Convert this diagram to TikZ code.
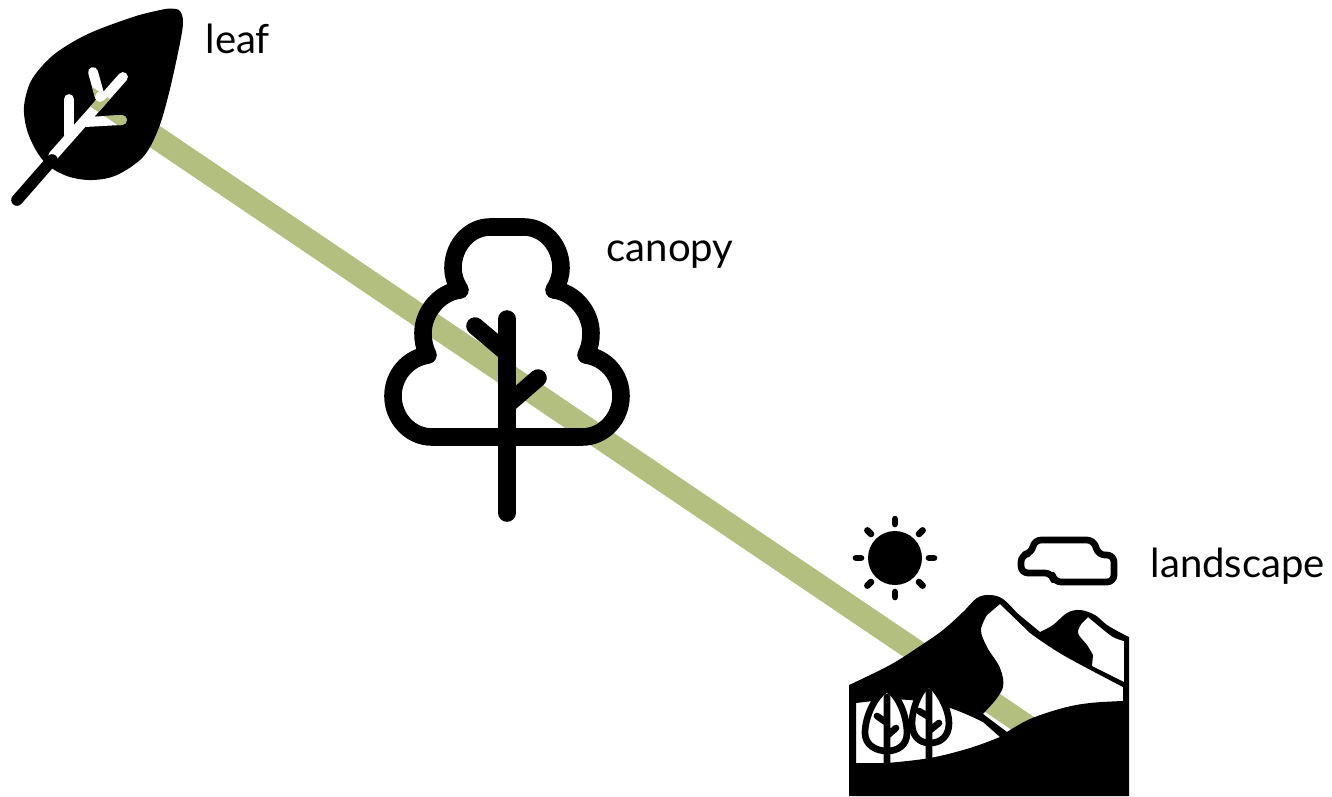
\documentclass[tikz,border=0pt]{standalone}
\usepackage{fontspec}
\setmainfont{Lato}
\usetikzlibrary{calc}
\definecolor{bandgreen}{HTML}{B3BF7F}
\begin{document}
\begin{tikzpicture}[x=0.01cm, y=-0.01cm,
	band/.style={line width=6.6pt, bandgreen},
	label/.style={anchor=base west, inner sep=0pt, font=\fontsize{11.4}{13}\selectfont},
	treeline/.style={line width=5pt, line cap=round, line join=round},
	smalltree/.style={line width=1.9pt, line cap=round, line join=round},
	vein/.style={line width=2.8pt, line cap=round},
	ray/.style={line width=1.9pt, line cap=round}]

	\useasboundingbox (0, 0) rectangle (1332, 796);

	\coordinate (leafend) at (80, 86);
	\coordinate (landscapeend) at (1040, 735);
	\coordinate (suncentre) at (895, 558);

	\node (leaftext) [label] at (205, 53) {leaf};
	\node (canopytext) [label] at (606, 261) {canopy};
	\node (landscapetext) [label] at (1150, 577) {landscape};

	\draw[band] (leafend) -- (landscapeend);

	% leaf
	\fill plot[smooth cycle, tension=0.55] coordinates {(171, 8.5) (180, 11) (183, 22) (180, 43) (169, 93) (158, 130) (143, 157) (117, 175) (93, 180) (70, 177) (50, 167) (37, 152) (27, 130) (24, 107) (30, 83) (43, 65) (60, 50) (90, 33) (133, 17) (158, 10.5)};
	\draw[vein, white] (53, 156) -- (123, 77) (69, 99) -- (69, 135) (93, 72) -- (100, 97) (122, 120) -- (86, 122);
	\begin{scope}
		\clip (70, 72) -- (150, 126) -- (140, 140) -- (70, 93) -- cycle;
		\draw[vein, bandgreen] (93, 72) -- (100, 97) (122, 120) -- (86, 122) (53, 156) -- (123, 77);
		\draw[vein, white] (86, 122) -- (105, 122) (100, 97) -- (123, 77);
	\end{scope}
	\draw[line width=3.3pt, line cap=round] (17, 200) -- (52, 160);

	% canopy
	\draw[treeline] (432, 437) .. controls (410, 437) and (393, 418) .. (393, 396) .. controls (393, 375) and (408, 358) .. (428, 355) .. controls (424, 347) and (423, 340) .. (423, 333) .. controls (423, 312) and (440, 292) .. (460, 290) .. controls (455, 282) and (453, 275) .. (453, 268) .. controls (453, 245) and (470, 227) .. (490, 227) -- (524, 227) .. controls (544, 227) and (561, 245) .. (561, 268) .. controls (561, 275) and (559, 282) .. (554, 290) .. controls (574, 292) and (591, 312) .. (591, 333) .. controls (591, 340) and (590, 347) .. (586, 355) .. controls (606, 358) and (621, 375) .. (621, 396) .. controls (621, 418) and (604, 437) .. (582, 437) -- cycle;
	\draw[treeline] (507, 319) -- (507, 513);
	\draw[treeline] (475, 326) -- (507, 353);
	\draw[treeline] (538, 378) -- (507, 405);

	% landscape
	\fill[even odd rule] (849, 796) -- (1129, 796) -- (1129, 637) -- plot[smooth, tension=0.6] coordinates {(1123, 634) (1107, 625) (1095, 615) (1080, 610) (1067, 613) (1053, 625) (1040, 632)} -- plot[smooth, tension=0.6] coordinates {(1017, 613) (1003, 599) (990, 595) (977, 598) (963, 612) (943, 630) (920, 646) (890, 665) (849, 685)} -- cycle
		(1000, 604) -- plot[smooth, tension=0.6] coordinates {(1030, 633) (1063, 655) (1123, 687)} -- plot[smooth, tension=0.6] coordinates {(1123, 701) (1090, 703) (1063, 708) (1030, 719) (1007, 732)} -- (983, 714) -- plot[smooth, tension=0.6] coordinates {(993, 703) (1003, 687) (1000, 668) (987, 647) (981, 630) (987, 615)} -- cycle
		(1088, 617) -- plot[smooth, tension=0.6] coordinates {(1100, 627) (1113, 637) (1124, 641)} -- (1124, 682) -- (1092, 666) -- plot[smooth, tension=0.6] coordinates {(1093, 655) (1087, 645) (1078, 633) (1082, 623)} -- cycle
		(856, 703) -- (856, 763) -- plot[smooth, tension=0.6] coordinates {(887, 763) (930, 758) (970, 748) (1000, 737)} -- plot[smooth, tension=0.6] coordinates {(983, 722) (950, 708) (910, 700) (873, 701)} -- cycle;

	\draw[smalltree, fill=white] (887, 689) .. controls (875, 695) and (865, 717) .. (865, 733) .. controls (865, 745) and (876, 751) .. (887, 751) .. controls (898, 751) and (907, 745) .. (907, 733) .. controls (907, 717) and (899, 695) .. (887, 689) -- cycle;
	\draw[smalltree] (887, 697) -- (887, 765) (877, 716) -- (887, 723) (896, 728) -- (887, 736);
	\draw[smalltree, fill=white] (929, 684) .. controls (919, 690) and (912, 710) .. (912, 723) .. controls (912, 736) and (919, 743) .. (930, 743) .. controls (941, 743) and (949, 736) .. (949, 723) .. controls (949, 710) and (939, 690) .. (929, 684) -- cycle;
	\draw[smalltree] (929, 692) -- (929, 760) (919, 711) -- (929, 717) (939, 723) -- (929, 731);

	% sun
	\fill (suncentre) circle (27);
	\foreach \a in {0, 45, ..., 315}
		\draw[ray] ($(suncentre) + (\a:34)$) -- ($(suncentre) + (\a:39)$);

	% cloud
	\draw[smalltree, rounded corners=2pt] (1034, 540) -- (1094, 540) -- (1098, 555) -- (1114, 555) -- (1114, 582) -- (1054, 582) -- (1052, 573) -- (1021, 573) -- (1021, 555) -- (1032, 553) -- cycle;

\end{tikzpicture}
\end{document}
